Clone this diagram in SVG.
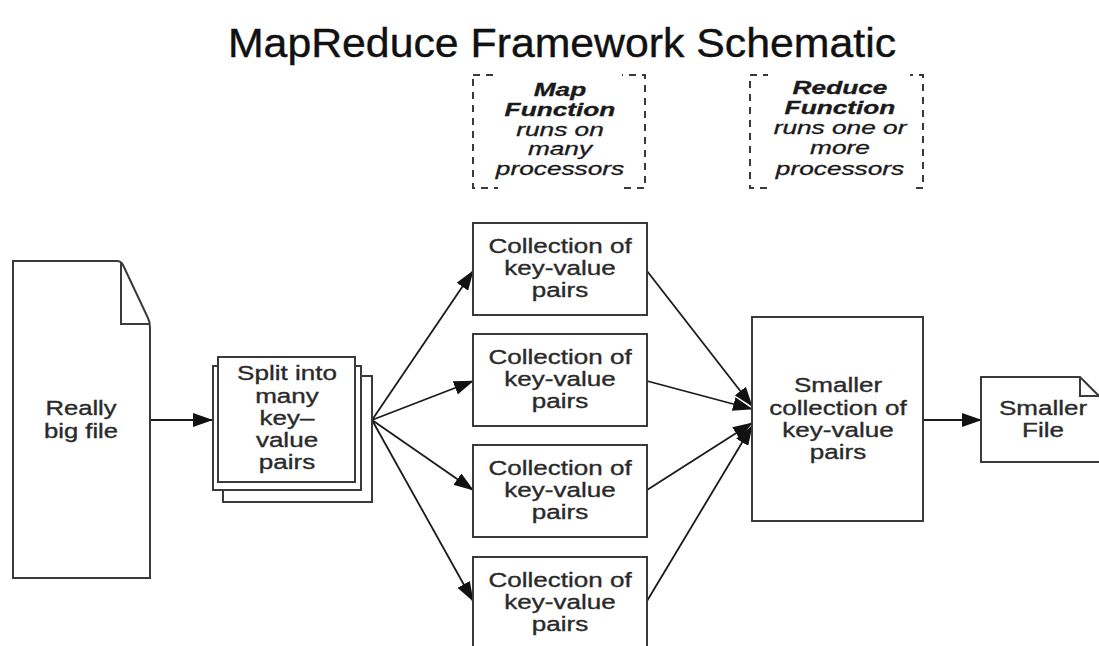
<svg xmlns="http://www.w3.org/2000/svg" width="1099" height="646" viewBox="0 0 1099 646">
  <defs>
    <marker id="arrow" markerUnits="userSpaceOnUse" markerWidth="20" markerHeight="14" refX="19" refY="7" orient="auto">
      <path d="M0,0 L20,7 L0,14 Z" fill="#111"/>
    </marker>
    <style>
      .box { fill: #fff; stroke: #3a3a3a; stroke-width: 2; }
      .fold { fill: none; stroke: #3a3a3a; stroke-width: 2; }
      .frame { fill: none; stroke: #3a3a3a; stroke-width: 2; stroke-dasharray: 7 6; }
      .edge { fill: none; stroke: #1a1a1a; stroke-width: 1.8; marker-end: url(#arrow); }
      .lbl { font-family: "Liberation Sans", Arial, sans-serif; font-size: 20.5px; fill: #2a2a2a; stroke: #2a2a2a; stroke-width: 0.35; text-anchor: middle; }
      .note { font-family: "Liberation Sans", Arial, sans-serif; font-size: 17.5px; fill: #1a1a1a; stroke: #1a1a1a; stroke-width: 0.3; text-anchor: middle; font-style: italic; }
      .title { font-family: "Liberation Sans", Arial, sans-serif; font-size: 40px; fill: #111; stroke: #111; stroke-width: 0.4; text-anchor: middle; }
    </style>
  </defs>

  <rect width="1099" height="646" fill="#fff"/>

  <text class="title" transform="translate(562,0) scale(1.07,1)" x="0" y="57">MapReduce Framework Schematic</text>

  <!-- annotation frames: dashed outline, text block masks the middle of top and bottom edges -->
  <g id="map-function-note">
    <rect class="frame" x="473" y="75" width="172" height="113"/>
    <rect x="498" y="68" width="124" height="127" fill="#fff"/>
    <g class="note" transform="translate(560,0) scale(1.5,1)">
      <text x="0" y="96" font-weight="bold">Map</text>
      <text x="0" y="116" font-weight="bold">Function</text>
      <text x="0" y="136">runs on</text>
      <text x="0" y="155">many</text>
      <text x="0" y="175">processors</text>
    </g>
  </g>

  <g id="reduce-function-note">
    <rect class="frame" x="750" y="75" width="173" height="113"/>
    <rect x="768" y="68" width="142" height="127" fill="#fff"/>
    <g class="note" transform="translate(840,0) scale(1.5,1)">
      <text x="0" y="94" font-weight="bold">Reduce</text>
      <text x="0" y="114" font-weight="bold">Function</text>
      <text x="0" y="134">runs one or</text>
      <text x="0" y="154">more</text>
      <text x="0" y="175">processors</text>
    </g>
  </g>

  <!-- connectors -->
  <g id="connectors">
    <line class="edge" x1="150" y1="420" x2="212" y2="420"/>
    <line class="edge" x1="372" y1="420" x2="473" y2="271"/>
    <line class="edge" x1="372" y1="420" x2="473" y2="381"/>
    <line class="edge" x1="372" y1="420" x2="473" y2="490"/>
    <line class="edge" x1="372" y1="420" x2="473" y2="601"/>
    <line class="edge" x1="647" y1="271" x2="752" y2="406"/>
    <line class="edge" x1="647" y1="381" x2="752" y2="409"/>
    <line class="edge" x1="647" y1="490" x2="752" y2="423"/>
    <line class="edge" x1="647" y1="601" x2="752" y2="426"/>
    <line class="edge" x1="923" y1="420" x2="981" y2="420"/>
  </g>

  <!-- input document -->
  <g id="really-big-file">
    <path class="box" d="M13,261 H117 Q121,261 123,265 L148,318 Q150,322 150,328 V578 H13 Z"/>
    <path class="fold" d="M121,263 V324 H149"/>
    <g class="lbl" transform="translate(81,0) scale(1.25,1)">
      <text x="0" y="415">Really</text>
      <text x="0" y="438">big file</text>
    </g>
  </g>

  <!-- stacked split pages -->
  <g id="split">
    <rect class="box" x="223" y="376" width="149" height="126"/>
    <rect class="box" x="213" y="366" width="148" height="124"/>
    <rect class="box" x="218" y="357" width="137" height="125"/>
    <g class="lbl" transform="translate(287,0) scale(1.27,1)">
      <text x="0" y="380">Split into</text>
      <text x="0" y="403">many</text>
      <text x="0" y="425">key–</text>
      <text x="0" y="447">value</text>
      <text x="0" y="469">pairs</text>
    </g>
  </g>

  <!-- map outputs -->
  <g id="collection-1">
    <rect class="box" x="473" y="223" width="174" height="92"/>
    <g class="lbl" transform="translate(560,0) scale(1.27,1)">
      <text x="0" y="253">Collection of</text>
      <text x="0" y="275">key-value</text>
      <text x="0" y="297">pairs</text>
    </g>
  </g>
  <g id="collection-2">
    <rect class="box" x="473" y="334" width="174" height="92"/>
    <g class="lbl" transform="translate(560,0) scale(1.27,1)">
      <text x="0" y="364">Collection of</text>
      <text x="0" y="386">key-value</text>
      <text x="0" y="408">pairs</text>
    </g>
  </g>
  <g id="collection-3">
    <rect class="box" x="473" y="445" width="174" height="92"/>
    <g class="lbl" transform="translate(560,0) scale(1.27,1)">
      <text x="0" y="475">Collection of</text>
      <text x="0" y="497">key-value</text>
      <text x="0" y="519">pairs</text>
    </g>
  </g>
  <g id="collection-4">
    <rect class="box" x="473" y="557" width="174" height="92"/>
    <g class="lbl" transform="translate(560,0) scale(1.27,1)">
      <text x="0" y="587">Collection of</text>
      <text x="0" y="609">key-value</text>
      <text x="0" y="631">pairs</text>
    </g>
  </g>

  <!-- reduce output -->
  <g id="smaller-collection">
    <rect class="box" x="752" y="317" width="171" height="204"/>
    <g class="lbl" transform="translate(838,0) scale(1.27,1)">
      <text x="0" y="392">Smaller</text>
      <text x="0" y="415">collection of</text>
      <text x="0" y="437">key-value</text>
      <text x="0" y="459">pairs</text>
    </g>
  </g>

  <!-- output document -->
  <g id="smaller-file">
    <path class="box" d="M981,377 H1080 L1101,398 V462 H981 Z"/>
    <path class="fold" d="M1080,378 V396 H1100"/>
    <g class="lbl" transform="translate(1043,0) scale(1.27,1)">
      <text x="0" y="415">Smaller</text>
      <text x="0" y="437">File</text>
    </g>
  </g>
</svg>
